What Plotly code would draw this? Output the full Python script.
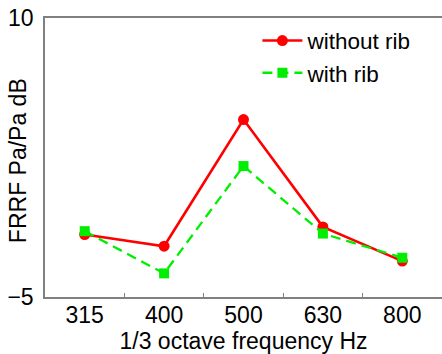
import plotly.graph_objects as go

categories = ["315", "400", "500", "630", "800"]
without_rib = [-1.64, -2.27, 4.54, -1.23, -3.07]
with_rib = [-1.46, -3.73, 2.04, -1.59, -2.89]
y_ticks = [-5, 10]

FONT = "Liberation Sans, Arial, sans-serif"

fig = go.Figure()
fig.add_trace(go.Scatter(
    x=categories, y=without_rib, name="without rib", mode="lines+markers",
    line=dict(color="#ff0000", width=2.6),
    marker=dict(symbol="circle", size=11, color="#ff0000"),
))
fig.add_trace(go.Scatter(
    x=categories, y=with_rib, name="with rib", mode="lines+markers",
    line=dict(color="#00ee00", width=2.3, dash="10px,6px"),
    marker=dict(symbol="square", size=10, color="#00ee00"),
))

fig.update_layout(
    width=442, height=354,
    margin=dict(l=45, r=0, t=18, b=57),
    paper_bgcolor="white", plot_bgcolor="white",
    font=dict(family=FONT, size=23, color="black"),
    showlegend=True,
    legend=dict(x=0.535, y=0.995, xanchor="left", yanchor="top",
                bgcolor="rgba(0,0,0,0)", font=dict(size=22.5),
                tracegroupgap=0, itemwidth=40),
    annotations=[dict(
        text="FRRF Pa/Pa dB", textangle=-90, showarrow=False,
        xref="paper", yref="paper", x=-0.068, y=0.487,
        xanchor="center", yanchor="middle", font=dict(size=23),
    )],
)
fig.update_xaxes(
    type="category", range=[-0.5, 4.5], tickson="boundaries", ticks="inside",
    ticklen=4, tickcolor="#808080", showline=True, linecolor="#808080",
    linewidth=1.5, mirror=True, showgrid=False, zeroline=False,
    automargin=False, ticklabelstandoff=-3,
    title=dict(text="1/3 octave frequency Hz", standoff=0, font=dict(size=23)),
    tickfont=dict(size=23),
)
fig.update_yaxes(
    range=[-5, 10], tickvals=y_ticks, ticks="", showline=True,
    linecolor="#808080", linewidth=1.5, showgrid=False, zeroline=False,
    automargin=False, ticklabelstandoff=5,
    tickfont=dict(size=23),
)

fig.write_html("out.html", config={"displayModeBar": False},
               post_script="document.body.style.margin='0';")
